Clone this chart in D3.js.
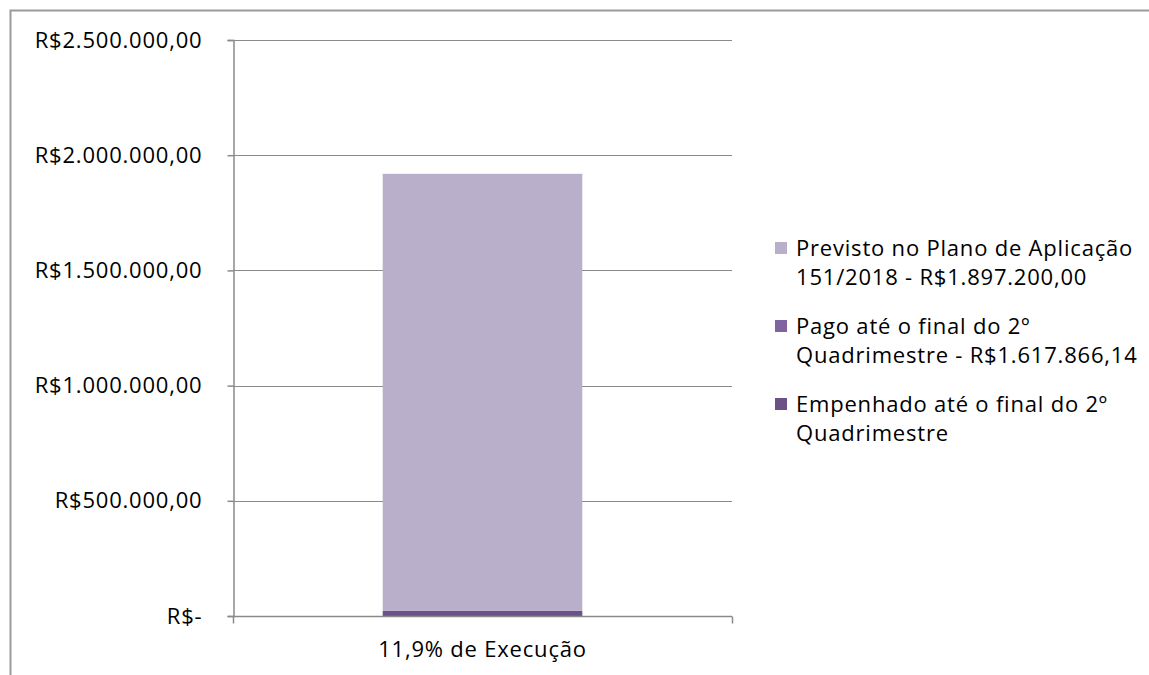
<!DOCTYPE html>
<html>
<head>
<meta charset="utf-8">
<script src="https://cdn.jsdelivr.net/npm/d3@7"></script>
<style>
  body { margin: 0; background: #fff; }
  svg { display: block; font-family: "Open Sans", sans-serif; }
  text { letter-spacing: 0.8px; }
</style>
</head>
<body>
<svg id="chart" width="1149" height="675"></svg>
<script>
// data
const categories = ["11,9% de Execução"];
const seriesNames = ["Empenhado", "Pago", "Previsto"];
const empenhado = [22000];
const pago = [0];
const previsto = [1897200];
const yTicks = [0, 500000, 1000000, 1500000, 2000000, 2500000];
const yTickLabels = ["R$-", "R$500.000,00", "R$1.000.000,00", "R$1.500.000,00", "R$2.000.000,00", "R$2.500.000,00"];
const legendLines = [
    ["Previsto no Plano de Aplicação", "151/2018 - R$1.897.200,00"],
    ["Pago até o final do 2º", "Quadrimestre - R$1.617.866,14"],
    ["Empenhado até o final do 2º", "Quadrimestre"]
];
const colors = {Empenhado: "#6a5289", Pago: "#8064a2", Previsto: "#b9afca"};
const legendOrder = ["Previsto", "Pago", "Empenhado"];

const fontSize = "22px";
const svg = d3.select("#chart");

// outer chart frame (only left and top edges fall inside the picture)
svg.append("path")
    .attr("d", "M10.5,675 V10.5 H1149")
    .attr("fill", "none")
    .attr("stroke", "#9a9a9a")
    .attr("stroke-width", 2);

const plotLeft = 233, plotRight = 732, plotTop = 40, plotBottom = 616;

const x = d3.scaleBand().domain(categories).range([plotLeft, plotRight])
    .paddingInner(0.6).paddingOuter(0.3);
const y = d3.scaleLinear().domain([0, 2500000]).range([plotBottom, plotTop]);

// gridlines
svg.append("g")
  .selectAll("line")
  .data(yTicks.slice(1))
  .enter().append("line")
    .attr("x1", plotLeft).attr("x2", plotRight)
    .attr("y1", d => Math.round(y(d)) + 0.5)
    .attr("y2", d => Math.round(y(d)) + 0.5)
    .attr("stroke", "#8a8a8a");

// stacked bar
const rows = categories.map((c, i) => ({cat: c, Empenhado: empenhado[i], Pago: pago[i], Previsto: previsto[i]}));
const stacked = d3.stack().keys(seriesNames)(rows);

svg.append("g")
  .selectAll("g")
  .data(stacked)
  .enter().append("g")
    .attr("fill", d => colors[d.key])
  .selectAll("rect")
  .data(d => d)
  .enter().append("rect")
    .attr("x", d => x(d.data.cat))
    .attr("width", x.bandwidth())
    .attr("y", d => y(d[1]))
    .attr("height", d => y(d[0]) - y(d[1]));

// y axis
const yAxis = d3.axisLeft(y)
    .tickValues(yTicks)
    .tickFormat((d, i) => yTickLabels[i])
    .tickSize(6)
    .tickPadding(25);

const gy = svg.append("g")
    .attr("transform", "translate(" + (plotLeft + 0.5) + ",0)")
    .call(yAxis);
gy.select(".domain").attr("stroke", "#8a8a8a").attr("stroke-width", 1.5);
gy.selectAll(".tick line").attr("stroke", "#8a8a8a").attr("stroke-width", 1.5);
gy.selectAll(".tick text")
    .attr("fill", "#000")
    .style("font-size", fontSize)
    .style("font-family", "'Open Sans', sans-serif");

// x axis
const gx = svg.append("g")
    .attr("transform", "translate(0," + (plotBottom + 0.5) + ")");
gx.append("line")
    .attr("x1", plotLeft).attr("x2", plotRight)
    .attr("stroke", "#8a8a8a").attr("stroke-width", 1.5);
gx.selectAll("line.tk")
  .data([plotLeft, plotRight])
  .enter().append("line")
    .attr("class", "tk")
    .attr("x1", d => d + 0.5).attr("x2", d => d + 0.5)
    .attr("y1", 0).attr("y2", 7)
    .attr("stroke", "#8a8a8a").attr("stroke-width", 1.5);
gx.selectAll("text")
  .data(categories)
  .enter().append("text")
    .attr("x", d => x(d) + x.bandwidth() / 2)
    .attr("y", 40)
    .attr("text-anchor", "middle")
    .style("font-size", fontSize)
    .text(d => d);

// legend
const legend = svg.append("g")
    .attr("transform", "translate(775,0)");
const item = legend.selectAll("g")
  .data(legendOrder)
  .enter().append("g")
    .attr("transform", (d, i) => "translate(0," + (256 + i * 78) + ")");
item.append("rect")
    .attr("x", 0).attr("y", -14)
    .attr("width", 12).attr("height", 12)
    .attr("fill", d => colors[d]);
item.append("text")
    .style("font-size", fontSize)
    .selectAll("tspan")
    .data((d, i) => legendLines[i])
    .enter().append("tspan")
      .attr("x", 21)
      .attr("y", (d, j) => j * 29)
      .text(d => d);
</script>
</body>
</html>
